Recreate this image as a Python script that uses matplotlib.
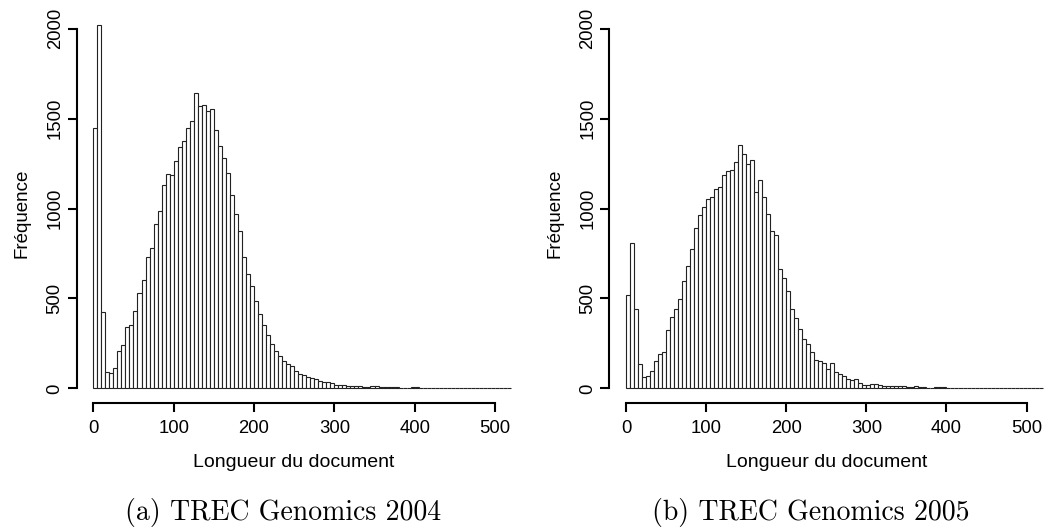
import numpy as np
import matplotlib
matplotlib.use("Agg")
import matplotlib.pyplot as plt

plt.rcParams['font.family'] = ['Liberation Sans', 'DejaVu Sans']

# histogram counts, bins of width 5 starting at 0
bin_width = 5
counts_2004 = [1450, 2020, 427, 88, 84, 112, 206, 242, 340, 352,
               429, 528, 603, 730, 783, 916, 989, 1129, 1193, 1189,
               1267, 1343, 1376, 1447, 1485, 1640, 1569, 1577, 1545, 1551,
               1436, 1346, 1279, 1200, 1075, 972, 876, 730, 636, 571,
               483, 414, 350, 298, 247, 210, 180, 153, 138, 124,
               99, 77, 72, 64, 60, 50, 39, 34, 33, 28,
               20, 16, 16, 15, 11, 11, 13, 9, 9, 11,
               11, 9, 7, 7, 6, 6, 4, 4, 2, 6,
               6, 2, 1, 1, 2, 1, 1, 0, 1, 1,
               0, 0, 1, 0, 0, 0, 1, 0, 0, 0,
               0, 0, 0, 0]
counts_2005 = [517, 811, 444, 133, 64, 69, 96, 150, 189, 202,
               326, 397, 442, 496, 599, 678, 773, 893, 963, 1006,
               1054, 1066, 1110, 1122, 1189, 1210, 1215, 1257, 1352, 1304,
               1247, 1268, 1093, 1159, 1062, 968, 875, 852, 665, 616,
               541, 444, 393, 328, 275, 245, 200, 157, 152, 139,
               107, 143, 88, 80, 68, 51, 49, 51, 29, 20,
               21, 26, 22, 17, 15, 15, 13, 13, 11, 11,
               9, 9, 11, 8, 8, 4, 4, 8, 8, 6,
               2, 1, 1, 1, 2, 1, 0, 1, 1, 0,
               1, 0, 0, 1, 0, 0, 0, 0, 0, 0,
               0, 0, 0, 0]
x_ticks = [0, 100, 200, 300, 400, 500]
y_ticks = [0, 500, 1000, 1500, 2000]
captions = ["(a) TREC Genomics 2004", "(b) TREC Genomics 2005"]

W, H = 1044, 527
fig = plt.figure(figsize=(W / 100, H / 100), dpi=100)


def px_axes(x0, x1, ytop, ybot):
    return fig.add_axes([x0 / W, (H - ybot) / H, (x1 - x0) / W, (ybot - ytop) / H])


def draw_hist(ax, counts):
    edges = np.arange(len(counts)) * bin_width
    ax.bar(edges, counts, width=bin_width, align='edge', color='white',
           edgecolor='#222222', linewidth=0.8)
    ax.set_xlim(-20.8, 540.8)
    ax.set_ylim(-80, 2080)
    for s in ['top', 'right']:
        ax.spines[s].set_visible(False)
    ax.spines['left'].set_bounds(0, 2000)
    ax.spines['bottom'].set_bounds(0, 500)
    for s in ['left', 'bottom']:
        ax.spines[s].set_linewidth(1.5)
    ax.set_xticks(x_ticks)
    ax.set_yticks(y_ticks)
    ax.set_yticklabels([str(v) for v in y_ticks], rotation=90, va='center')
    ax.tick_params(axis='both', length=6.3, width=1.5, labelsize=13.3)
    ax.tick_params(axis='x', pad=6)
    ax.tick_params(axis='y', pad=3)
    ax.set_xlabel("Longueur du document", fontsize=14, va='baseline')
    ax.xaxis.set_label_coords(0.482, -0.165)
    ax.set_ylabel("Fréquence", fontsize=13.5, va='baseline', rotation_mode='anchor')
    ax.yaxis.set_label_coords(-0.11, 0.487)


ax1 = px_axes(76.6, 527.8, 14.4, 402.7)
draw_hist(ax1, counts_2004)
ax2 = px_axes(609.3, 1059.3, 14.4, 402.7)
draw_hist(ax2, counts_2005)

fig.text(283.5 / W, (H - 520) / H, captions[0], family='cmr10', fontsize=20,
         ha='center', va='baseline')
fig.text(811 / W, (H - 520) / H, captions[1], family='cmr10', fontsize=20,
         ha='center', va='baseline')

fig.savefig("out.png", dpi=100)
